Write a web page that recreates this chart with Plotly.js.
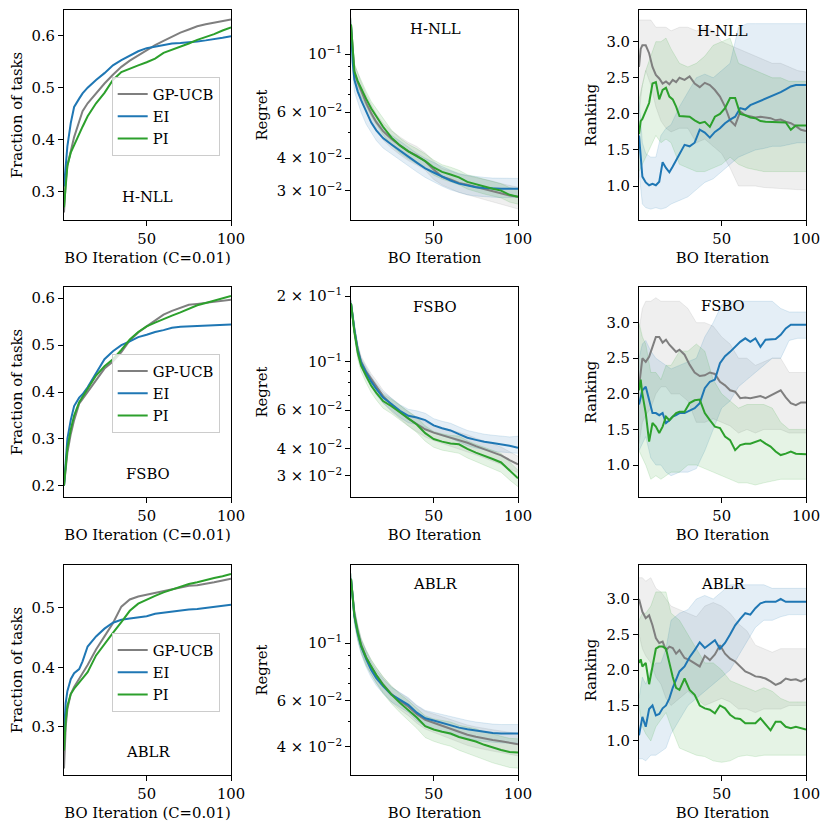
<!DOCTYPE html>
<html><head><meta charset="utf-8">
<script src="https://cdn.plot.ly/plotly-3.0.1.min.js"></script>
<style>html,body{margin:0;padding:0;background:#fff}#chart{width:831px;height:830px}</style>
</head><body><div id="chart"></div>
<script>
// ---------------- data ----------------
const METHODS = ['GP-UCB', 'EI', 'PI'];
const DATASETS = ['H-NLL', 'FSBO', 'ABLR'];

// Column 1: fraction of tasks
const X_FRAC = [1,2,3,5,7,10,12,15,20,25,30,35,40,45,50,55,60,65,70,75,80,85,90,95,100];
const FRAC_HNLL_GPUCB = [0.26,0.32,0.35,0.38,0.405,0.435,0.455,0.47,0.49,0.508,0.525,0.54,0.552,0.562,0.572,0.582,0.59,0.598,0.606,0.612,0.618,0.622,0.625,0.627,0.631];
const FRAC_HNLL_EI    = [0.31,0.35,0.387,0.432,0.463,0.479,0.489,0.5,0.515,0.528,0.543,0.553,0.562,0.57,0.576,0.579,0.583,0.585,0.586,0.587,0.589,0.591,0.593,0.596,0.599];
const FRAC_HNLL_PI    = [0.27,0.32,0.35,0.375,0.39,0.41,0.425,0.445,0.47,0.49,0.515,0.53,0.537,0.543,0.549,0.556,0.567,0.573,0.578,0.585,0.592,0.597,0.603,0.61,0.616];
const FRAC_FSBO_GPUCB = [0.2,0.24,0.27,0.31,0.34,0.375,0.385,0.40,0.425,0.45,0.465,0.485,0.51,0.527,0.54,0.552,0.565,0.573,0.58,0.586,0.588,0.59,0.592,0.594,0.597];
const FRAC_FSBO_EI    = [0.2,0.26,0.30,0.34,0.37,0.388,0.395,0.41,0.44,0.47,0.487,0.5,0.508,0.517,0.522,0.528,0.532,0.537,0.539,0.54,0.541,0.541,0.542,0.543,0.544];
const FRAC_FSBO_PI    = [0.2,0.25,0.28,0.32,0.35,0.378,0.39,0.405,0.435,0.455,0.47,0.49,0.512,0.528,0.54,0.548,0.556,0.563,0.57,0.577,0.585,0.59,0.595,0.6,0.605];
const FRAC_ABLR_GPUCB = [0.23,0.30,0.33,0.355,0.367,0.38,0.39,0.404,0.43,0.452,0.474,0.502,0.514,0.519,0.522,0.526,0.529,0.531,0.535,0.537,0.538,0.54,0.543,0.546,0.549];
const FRAC_ABLR_EI    = [0.29,0.34,0.36,0.38,0.39,0.397,0.41,0.435,0.452,0.465,0.475,0.48,0.482,0.484,0.486,0.49,0.492,0.494,0.495,0.497,0.498,0.5,0.501,0.503,0.505];
const FRAC_ABLR_PI    = [0.26,0.31,0.335,0.355,0.364,0.375,0.383,0.392,0.42,0.44,0.458,0.476,0.495,0.507,0.514,0.52,0.526,0.531,0.536,0.54,0.543,0.547,0.55,0.553,0.557];

// Column 2: regret (mean, lower, upper)
const X_REG = [1,2,3,5,7,10,13,16,20,25,30,35,40,45,50,55,60,65,70,75,80,85,90,95,100];
const REG_HNLL_GPUCB    = [0.13,0.1,0.085,0.078,0.072,0.065,0.0595,0.055,0.0508,0.0474,0.0448,0.0425,0.041,0.039,0.0362,0.034,0.0332,0.0322,0.0317,0.0311,0.0305,0.03,0.0294,0.0288,0.0285];
const REG_HNLL_GPUCB_LO = [0.122,0.092,0.078,0.071,0.066,0.06,0.055,0.051,0.047,0.0438,0.0413,0.0392,0.0377,0.036,0.0332,0.0316,0.0306,0.0296,0.029,0.0284,0.0278,0.0272,0.0266,0.026,0.0256];
const REG_HNLL_GPUCB_HI = [0.138,0.108,0.092,0.085,0.078,0.07,0.064,0.059,0.0546,0.051,0.0483,0.046,0.0444,0.042,0.039,0.0366,0.0358,0.0348,0.0343,0.0338,0.0332,0.0327,0.032,0.0315,0.031];
const REG_HNLL_EI       = [0.128,0.093,0.08,0.072,0.0668,0.06,0.0548,0.0512,0.0478,0.0452,0.043,0.0406,0.0385,0.0366,0.0353,0.034,0.0329,0.032,0.0314,0.031,0.0308,0.0306,0.0306,0.0306,0.0306];
const REG_HNLL_EI_LO    = [0.12,0.085,0.072,0.065,0.06,0.054,0.05,0.0468,0.0438,0.0415,0.0395,0.0374,0.0355,0.0338,0.0325,0.0313,0.0303,0.0296,0.029,0.0287,0.0285,0.0284,0.0283,0.0283,0.0283];
const REG_HNLL_EI_HI    = [0.136,0.104,0.088,0.079,0.073,0.066,0.06,0.056,0.052,0.049,0.0466,0.044,0.0418,0.04,0.0385,0.0372,0.036,0.035,0.0344,0.034,0.0338,0.0336,0.0335,0.0335,0.0335];
const REG_HNLL_PI       = [0.13,0.1,0.086,0.079,0.074,0.0675,0.062,0.058,0.0528,0.048,0.0448,0.0425,0.0408,0.039,0.0369,0.0355,0.0347,0.0338,0.0325,0.0318,0.0311,0.0306,0.0301,0.029,0.0285];
const REG_HNLL_PI_LO    = [0.122,0.093,0.08,0.073,0.069,0.063,0.058,0.054,0.0493,0.0448,0.0419,0.0398,0.0382,0.0365,0.0345,0.0333,0.0325,0.0317,0.0305,0.0298,0.0292,0.0287,0.0282,0.0272,0.0267];
const REG_HNLL_PI_HI    = [0.138,0.107,0.092,0.085,0.079,0.072,0.066,0.062,0.0565,0.0513,0.0478,0.0453,0.0435,0.0416,0.0394,0.0378,0.037,0.036,0.0346,0.0339,0.0331,0.0326,0.032,0.0309,0.0304];

const REG_FSBO_GPUCB    = [0.185,0.16,0.14,0.114,0.1,0.09,0.083,0.077,0.0695,0.0635,0.059,0.0548,0.0517,0.049,0.0473,0.046,0.045,0.0436,0.0425,0.041,0.0398,0.0385,0.0372,0.0354,0.0338];
const REG_FSBO_GPUCB_LO = [0.178,0.152,0.133,0.107,0.094,0.085,0.078,0.072,0.065,0.059,0.0548,0.0508,0.0478,0.0452,0.0435,0.0422,0.0412,0.0398,0.0388,0.0374,0.0362,0.035,0.0338,0.0322,0.031];
const REG_FSBO_GPUCB_HI = [0.192,0.168,0.147,0.121,0.106,0.096,0.088,0.082,0.074,0.068,0.0632,0.0588,0.0556,0.0528,0.0511,0.0498,0.0488,0.0474,0.0462,0.0446,0.0434,0.042,0.0406,0.0386,0.0368];
const REG_FSBO_EI       = [0.185,0.16,0.14,0.113,0.099,0.089,0.081,0.075,0.0685,0.064,0.0595,0.0565,0.0555,0.054,0.051,0.0495,0.0484,0.0465,0.0448,0.0438,0.0429,0.0424,0.0419,0.0412,0.0403];
const REG_FSBO_EI_LO    = [0.178,0.152,0.133,0.107,0.094,0.084,0.0765,0.0705,0.0645,0.06,0.0555,0.0525,0.0515,0.05,0.0472,0.0457,0.0446,0.0428,0.0412,0.0402,0.0394,0.0389,0.0385,0.0382,0.038];
const REG_FSBO_EI_HI    = [0.192,0.168,0.147,0.119,0.104,0.094,0.0855,0.0795,0.0725,0.068,0.0635,0.0605,0.0595,0.058,0.0548,0.0533,0.0522,0.0502,0.0484,0.0474,0.0465,0.046,0.0455,0.0452,0.0455];
const REG_FSBO_PI       = [0.185,0.158,0.137,0.11,0.096,0.086,0.0775,0.072,0.066,0.0625,0.0585,0.0548,0.0515,0.047,0.0442,0.043,0.0422,0.0418,0.0398,0.0383,0.0371,0.0358,0.0345,0.0318,0.0292];
const REG_FSBO_PI_LO    = [0.178,0.15,0.13,0.103,0.09,0.08,0.0722,0.0668,0.0612,0.0578,0.054,0.0505,0.0474,0.0432,0.0405,0.0393,0.0385,0.038,0.0362,0.0348,0.0336,0.0324,0.0311,0.0287,0.0267];
const REG_FSBO_PI_HI    = [0.192,0.166,0.144,0.117,0.102,0.092,0.083,0.0772,0.0708,0.0672,0.063,0.0591,0.0556,0.0508,0.0479,0.0467,0.0459,0.0456,0.0434,0.0418,0.0406,0.0392,0.0379,0.0349,0.0318];

const REG_ABLR_GPUCB    = [0.177,0.147,0.13,0.111,0.099,0.0885,0.081,0.0755,0.0695,0.0638,0.06,0.057,0.0534,0.0508,0.0495,0.0483,0.047,0.0456,0.0445,0.0437,0.043,0.0425,0.042,0.0414,0.0409];
const REG_ABLR_GPUCB_LO = [0.168,0.138,0.122,0.104,0.093,0.083,0.0758,0.0705,0.0648,0.0593,0.0556,0.0527,0.0493,0.0468,0.0455,0.0443,0.043,0.0416,0.0405,0.0397,0.039,0.0385,0.038,0.0374,0.0369];
const REG_ABLR_GPUCB_HI = [0.186,0.156,0.138,0.118,0.105,0.094,0.0862,0.0805,0.0742,0.0683,0.0644,0.0613,0.0575,0.0548,0.0535,0.0523,0.051,0.0496,0.0485,0.0477,0.047,0.0465,0.046,0.0454,0.0449];
const REG_ABLR_EI       = [0.177,0.145,0.127,0.109,0.097,0.087,0.079,0.0735,0.0685,0.0635,0.0605,0.058,0.0541,0.0515,0.0505,0.0494,0.0483,0.0474,0.0467,0.0461,0.0456,0.0452,0.045,0.045,0.045];
const REG_ABLR_EI_LO    = [0.168,0.136,0.119,0.102,0.091,0.081,0.0738,0.0688,0.0641,0.0595,0.0566,0.0542,0.0504,0.0478,0.0468,0.0456,0.0445,0.0436,0.0429,0.0424,0.0419,0.0416,0.0414,0.0413,0.0413];
const REG_ABLR_EI_HI    = [0.186,0.154,0.135,0.116,0.103,0.093,0.0845,0.0785,0.073,0.0677,0.0645,0.0618,0.0578,0.0552,0.0542,0.0532,0.0521,0.0512,0.0505,0.0498,0.0493,0.0489,0.0487,0.0487,0.0487];
const REG_ABLR_PI       = [0.177,0.146,0.128,0.11,0.098,0.088,0.081,0.0755,0.0693,0.0635,0.059,0.0554,0.0518,0.048,0.0466,0.0457,0.045,0.0436,0.0427,0.0419,0.0407,0.0397,0.0389,0.0382,0.038];
const REG_ABLR_PI_LO    = [0.168,0.137,0.12,0.103,0.092,0.082,0.0755,0.0702,0.0642,0.0586,0.0542,0.0506,0.0471,0.0434,0.042,0.041,0.0402,0.0388,0.0378,0.0369,0.0357,0.0347,0.0339,0.0333,0.0331];
const REG_ABLR_PI_HI    = [0.186,0.155,0.136,0.117,0.104,0.094,0.0865,0.0808,0.0744,0.0684,0.0638,0.0602,0.0565,0.0526,0.0512,0.0504,0.0498,0.0484,0.0476,0.0469,0.0457,0.0447,0.0439,0.0431,0.0429];

// Column 3: ranking (mean lines and bands)
const X_RANK = [1,2,3,5,7,9,11,13,15,17,19,21,23,25,28,31,34,37,40,43,46,49,52,55,58,61,64,67,70,73,76,79,82,85,88,91,94,97,100];
const RANK_HNLL_GPUCB = [2.65,2.9,2.95,2.95,2.84,2.65,2.54,2.49,2.42,2.45,2.41,2.47,2.44,2.5,2.47,2.52,2.42,2.37,2.43,2.4,2.33,2.24,2.1,1.91,1.84,2.03,1.98,1.96,1.95,1.96,1.95,1.94,1.91,1.92,1.89,1.87,1.83,1.78,1.76];
const RANK_HNLL_EI    = [1.7,1.35,1.13,1.05,1.01,1.03,1.01,1.06,1.33,1.25,1.19,1.27,1.35,1.45,1.57,1.55,1.6,1.78,1.74,1.67,1.75,1.8,1.87,1.92,1.96,2.08,2.06,2.12,2.15,2.17,2.2,2.23,2.27,2.3,2.34,2.38,2.4,2.4,2.4];
const RANK_HNLL_PI    = [1.72,1.9,1.93,2.05,2.15,2.42,2.44,2.2,2.33,2.36,2.24,2.2,2.1,1.97,1.97,1.96,1.91,1.87,1.89,1.82,1.96,2.0,2.08,2.22,2.22,2.0,1.98,1.95,1.94,1.9,1.89,1.89,1.89,1.88,1.88,1.78,1.84,1.84,1.84];
const RANK_FSBO_GPUCB = [2.1,2.3,2.5,2.45,2.52,2.66,2.8,2.8,2.72,2.76,2.69,2.64,2.59,2.62,2.55,2.41,2.3,2.25,2.26,2.3,2.28,2.17,2.12,2.05,2.03,1.94,1.95,1.94,1.96,1.97,1.94,1.98,2.02,2.05,1.95,1.87,1.84,1.88,1.88];
const RANK_FSBO_EI    = [1.85,1.95,2.05,2.1,1.91,1.73,1.73,1.7,1.73,1.59,1.63,1.68,1.7,1.73,1.73,1.77,1.8,1.87,2.08,2.17,2.2,2.43,2.53,2.59,2.66,2.73,2.78,2.73,2.78,2.66,2.76,2.76,2.77,2.83,2.92,2.97,2.97,2.97,2.97];
const RANK_FSBO_PI    = [2.05,2.2,2.0,1.73,1.33,1.59,1.54,1.45,1.54,1.68,1.63,1.68,1.73,1.75,1.75,1.87,1.91,1.92,1.73,1.63,1.54,1.52,1.4,1.35,1.21,1.28,1.3,1.3,1.33,1.35,1.3,1.26,1.19,1.14,1.16,1.19,1.16,1.16,1.15];
const RANK_ABLR_GPUCB = [3.0,2.9,2.82,2.73,2.77,2.63,2.45,2.38,2.4,2.28,2.33,2.31,2.23,2.28,2.17,2.14,2.1,2.05,2.2,2.14,2.22,2.35,2.23,2.16,2.12,2.05,1.98,1.95,1.91,1.9,1.88,1.84,1.79,1.82,1.88,1.86,1.87,1.84,1.88];
const RANK_ABLR_EI    = [1.08,1.2,1.34,1.2,1.45,1.5,1.36,1.38,1.46,1.5,1.6,1.75,1.87,1.98,2.05,2.18,2.28,2.39,2.31,2.36,2.42,2.3,2.38,2.5,2.63,2.72,2.8,2.78,2.87,2.94,2.96,2.96,2.96,3.0,2.96,2.96,2.96,2.96,2.96];
const RANK_ABLR_PI    = [2.1,2.15,2.05,2.1,1.8,2.05,2.3,2.33,2.33,2.3,2.1,1.9,1.75,1.72,1.88,1.72,1.65,1.5,1.46,1.44,1.39,1.5,1.46,1.37,1.32,1.31,1.25,1.25,1.25,1.32,1.23,1.15,1.27,1.27,1.2,1.18,1.2,1.18,1.16];

const X_BAND = [1,3,5,8,11,14,17,20,25,30,35,40,45,50,55,60,65,70,75,80,85,90,95,100];
const RANK_HNLL_GPUCB_LO = [2.0,2.4,2.6,2.4,2.1,1.9,1.8,1.75,1.8,1.8,1.6,1.65,1.55,1.45,1.25,1.0,1.0,1.0,0.98,0.97,0.96,0.95,0.95,0.95];
const RANK_HNLL_GPUCB_HI = [3.3,3.3,3.3,3.3,3.2,3.2,3.2,3.15,3.2,3.2,3.15,3.2,3.15,3.0,2.95,2.9,2.85,2.8,2.75,2.7,2.7,2.65,2.6,2.58];
const RANK_HNLL_EI_LO    = [1.2,0.75,0.7,0.68,0.7,0.68,0.7,0.75,0.8,0.85,0.95,1.05,1.1,1.2,1.3,1.4,1.45,1.5,1.52,1.55,1.55,1.58,1.6,1.6];
const RANK_HNLL_EI_HI    = [2.2,1.6,1.45,1.4,1.4,1.7,1.8,1.85,2.1,2.3,2.5,2.55,2.5,2.6,2.7,3.2,3.25,3.25,3.25,3.25,3.25,3.25,3.25,3.25];
const RANK_HNLL_PI_LO    = [1.2,1.3,1.4,1.55,1.7,1.6,1.65,1.6,1.3,1.25,1.2,1.2,1.25,1.3,1.4,1.3,1.25,1.22,1.2,1.2,1.2,1.2,1.2,1.2];
const RANK_HNLL_PI_HI    = [2.2,2.4,2.6,2.8,3.0,3.0,3.05,2.9,2.7,2.65,2.7,2.8,2.95,3.0,3.05,2.7,2.65,2.6,2.55,2.5,2.5,2.45,2.45,2.45];
const RANK_FSBO_GPUCB_LO = [1.3,1.6,1.7,1.8,2.0,2.1,2.1,2.0,2.0,1.9,1.6,1.6,1.65,1.6,1.55,1.45,1.5,1.45,1.5,1.5,1.5,1.45,1.45,1.45];
const RANK_FSBO_GPUCB_HI = [2.9,3.2,3.3,3.3,3.35,3.3,3.3,3.3,3.3,3.2,3.0,3.0,2.95,2.8,2.7,2.5,2.5,2.4,2.45,2.5,2.5,2.3,2.3,2.3];
const RANK_FSBO_EI_LO    = [1.2,1.3,1.4,1.1,1.0,1.0,0.9,0.85,0.9,0.9,0.95,1.2,1.5,1.8,1.9,2.1,2.2,2.3,2.4,2.5,2.5,2.75,2.78,2.78];
const RANK_FSBO_EI_HI    = [2.5,2.7,2.75,2.6,2.5,2.45,2.4,2.35,2.4,2.45,2.5,2.8,3.0,3.25,3.3,3.3,3.3,3.3,3.3,3.3,3.2,3.15,3.15,3.15];
const RANK_FSBO_PI_LO    = [1.2,1.1,1.0,0.8,0.85,0.8,0.85,0.9,0.9,1.0,1.0,0.95,0.9,0.85,0.8,0.75,0.75,0.72,0.75,0.78,0.8,0.8,0.8,0.8];
const RANK_FSBO_PI_HI    = [3.0,2.8,2.7,2.3,2.3,2.2,2.4,2.4,2.6,2.6,2.7,2.6,2.2,2.0,1.9,1.8,1.85,1.85,1.85,1.8,1.6,1.5,1.5,1.5];
const RANK_ABLR_GPUCB_LO = [2.5,2.3,2.2,2.1,1.9,1.8,1.6,1.5,1.6,1.7,1.6,1.5,1.55,1.6,1.55,1.45,1.45,1.4,1.45,1.45,1.45,1.5,1.5,1.5];
const RANK_ABLR_GPUCB_HI = [3.3,3.3,3.25,3.3,3.15,3.1,3.0,2.9,2.85,2.8,2.75,2.9,2.95,2.9,2.8,2.65,2.55,2.35,2.3,2.25,2.3,2.3,2.3,2.3];
const RANK_ABLR_EI_LO    = [0.75,0.75,0.72,0.8,0.8,0.85,0.9,1.1,1.3,1.5,1.6,1.7,1.8,1.9,2.0,2.2,2.4,2.6,2.7,2.7,2.75,2.78,2.78,2.78];
const RANK_ABLR_EI_HI    = [1.6,1.9,1.8,2.0,2.1,2.1,2.3,2.7,2.8,2.85,3.0,3.05,3.0,3.1,3.2,3.2,3.2,3.2,3.2,3.15,3.15,3.15,3.15,3.15];
const RANK_ABLR_PI_LO    = [1.5,1.2,1.1,1.0,1.2,1.3,1.4,1.2,0.9,0.85,0.8,0.78,0.72,0.7,0.72,0.78,0.8,0.78,0.8,0.8,0.8,0.8,0.8,0.8];
const RANK_ABLR_PI_HI    = [2.7,2.8,2.8,2.9,3.1,3.1,3.1,2.8,2.7,2.5,2.3,2.1,2.1,2.0,1.85,1.8,1.75,1.7,1.75,1.7,1.6,1.55,1.55,1.55];

// tick labels
const FRAC_TICKS = [[0.3,0.4,0.5,0.6],[0.2,0.3,0.4,0.5,0.6],[0.3,0.4,0.5]];
const REG_TICKVALS = [[0.03,0.04,0.06,0.1],[0.03,0.04,0.06,0.1,0.2],[0.04,0.06,0.1]];
const REG_TICKTEXT = [
  ['3 × 10<sup>−2</sup>','4 × 10<sup>−2</sup>','6 × 10<sup>−2</sup>','10<sup>−1</sup>'],
  ['3 × 10<sup>−2</sup>','4 × 10<sup>−2</sup>','6 × 10<sup>−2</sup>','10<sup>−1</sup>','2 × 10<sup>−1</sup>'],
  ['4 × 10<sup>−2</sup>','6 × 10<sup>−2</sup>','10<sup>−1</sup>']
];
const REG_MINOR = [0.05,0.07,0.08,0.09];
const RANK_TICKS = [1.0,1.5,2.0,2.5,3.0];
const X_TICKS = [50,100];

// ---------------- styling ----------------
const FONT = 'DejaVu Serif, Liberation Serif, serif';
const FS = 14.8;
const COLORS = ['#7f7f7f','#1f77b4','#2ca02c'];
const BAND_FILLS = ['rgba(127,127,127,0.12)','rgba(31,119,180,0.12)','rgba(44,160,44,0.12)'];
const BAND_EDGES = ['rgba(127,127,127,0.18)','rgba(31,119,180,0.18)','rgba(44,160,44,0.18)'];
const W = 831, H = 830;
const COLS_PX = [[64,231],[351,518],[639,806]];
const ROWS_PX = [[10,220],[287,497],[565,775]];
const FRAC_RANGES = [[0.2456,0.6494],[0.176,0.624],[0.219,0.572]];
const REG_RANGES = [[-1.634,-0.8305],[-1.6206,-0.6573],[-1.5065,-0.6988]];
const RANK_RANGES = [[0.529,3.439],[0.551,3.501],[0.521,3.479]];

const FRAC = [[FRAC_HNLL_GPUCB,FRAC_HNLL_EI,FRAC_HNLL_PI],[FRAC_FSBO_GPUCB,FRAC_FSBO_EI,FRAC_FSBO_PI],[FRAC_ABLR_GPUCB,FRAC_ABLR_EI,FRAC_ABLR_PI]];
const REG = [
  [[REG_HNLL_GPUCB,REG_HNLL_GPUCB_LO,REG_HNLL_GPUCB_HI],[REG_HNLL_EI,REG_HNLL_EI_LO,REG_HNLL_EI_HI],[REG_HNLL_PI,REG_HNLL_PI_LO,REG_HNLL_PI_HI]],
  [[REG_FSBO_GPUCB,REG_FSBO_GPUCB_LO,REG_FSBO_GPUCB_HI],[REG_FSBO_EI,REG_FSBO_EI_LO,REG_FSBO_EI_HI],[REG_FSBO_PI,REG_FSBO_PI_LO,REG_FSBO_PI_HI]],
  [[REG_ABLR_GPUCB,REG_ABLR_GPUCB_LO,REG_ABLR_GPUCB_HI],[REG_ABLR_EI,REG_ABLR_EI_LO,REG_ABLR_EI_HI],[REG_ABLR_PI,REG_ABLR_PI_LO,REG_ABLR_PI_HI]]
];
const RANK = [
  [[RANK_HNLL_GPUCB,RANK_HNLL_GPUCB_LO,RANK_HNLL_GPUCB_HI],[RANK_HNLL_EI,RANK_HNLL_EI_LO,RANK_HNLL_EI_HI],[RANK_HNLL_PI,RANK_HNLL_PI_LO,RANK_HNLL_PI_HI]],
  [[RANK_FSBO_GPUCB,RANK_FSBO_GPUCB_LO,RANK_FSBO_GPUCB_HI],[RANK_FSBO_EI,RANK_FSBO_EI_LO,RANK_FSBO_EI_HI],[RANK_FSBO_PI,RANK_FSBO_PI_LO,RANK_FSBO_PI_HI]],
  [[RANK_ABLR_GPUCB,RANK_ABLR_GPUCB_LO,RANK_ABLR_GPUCB_HI],[RANK_ABLR_EI,RANK_ABLR_EI_LO,RANK_ABLR_EI_HI],[RANK_ABLR_PI,RANK_ABLR_PI_LO,RANK_ABLR_PI_HI]]
];

const traces = [];
const layout = {
  width: W, height: H, margin: {l:0, r:0, t:0, b:0},
  paper_bgcolor: 'white', plot_bgcolor: 'white',
  font: {family: FONT, size: FS, color: 'black'},
  annotations: []
};
const LEGENDS = ['legend','legend2','legend3'];
const LEGEND_TOP_PX = [77, 354, 633];

function axBase() {
  return {showline:true, mirror:true, linecolor:'black', linewidth:1, ticks:'outside', ticklen:5, tickwidth:1,
          tickcolor:'black', showgrid:false, zeroline:false, automargin:false,
          tickfont:{family:FONT, size:FS, color:'black'}};
}
function addBand(xa, ya, x, lo, hi, k) {
  traces.push({type:'scatter', mode:'lines', x:x, y:lo, xaxis:xa, yaxis:ya, line:{color:BAND_EDGES[k], width:0.8}, showlegend:false, hoverinfo:'skip'});
  traces.push({type:'scatter', mode:'lines', x:x, y:hi, xaxis:xa, yaxis:ya, fill:'tonexty', fillcolor:BAND_FILLS[k], line:{color:BAND_EDGES[k], width:0.8}, showlegend:false, hoverinfo:'skip'});
}

for (let r = 0; r < 3; r++) {
  for (let c = 0; c < 3; c++) {
    const i = r*3 + c + 1;
    const xa = 'x' + (i === 1 ? '' : i), ya = 'y' + (i === 1 ? '' : i);
    const xk = 'xaxis' + (i === 1 ? '' : i), yk = 'yaxis' + (i === 1 ? '' : i);
    const xAx = axBase(), yAx = axBase();
    xAx.domain = [COLS_PX[c][0]/W, COLS_PX[c][1]/W];
    yAx.domain = [1 - ROWS_PX[r][1]/H, 1 - ROWS_PX[r][0]/H];
    xAx.anchor = ya; yAx.anchor = xa;
    xAx.range = [1, 100];
    xAx.tickmode = 'array'; xAx.tickvals = X_TICKS; xAx.ticktext = X_TICKS.map(String);
    xAx.title = {text: c === 0 ? 'BO Iteration (C=0.01)' : 'BO Iteration', font:{family:FONT, size:FS, color:'black'}, standoff: 6};
    yAx.tickmode = 'array';
    let labelY;
    if (c === 0) {
      yAx.range = FRAC_RANGES[r];
      yAx.tickvals = FRAC_TICKS[r]; yAx.ticktext = FRAC_TICKS[r].map(v => v.toFixed(1));
      yAx.title = {text:'Fraction of tasks', font:{family:FONT, size:FS, color:'black'}, standoff: 5};
      for (let k = 0; k < 3; k++) {
        traces.push({type:'scatter', mode:'lines', x:X_FRAC, y:FRAC[r][k], xaxis:xa, yaxis:ya, name:METHODS[k],
          line:{color:COLORS[k], width:2}, legend:LEGENDS[r], showlegend:true});
      }
      labelY = [196.7, 473, 751.7][r];
      layout.annotations.push({text:DATASETS[r], xref:'paper', yref:'paper', x:147.5/W, y:1-labelY/H,
        xanchor:'center', yanchor:'middle', showarrow:false, font:{family:FONT, size:FS, color:'black'}});
      layout[LEGENDS[r]] = {x:111.7/W, y:1-LEGEND_TOP_PX[r]/H, xanchor:'left', yanchor:'top', traceorder:'normal',
        bgcolor:'rgba(255,255,255,0.8)', bordercolor:'#cccccc', borderwidth:1,
        font:{family:FONT, size:FS, color:'black'}, tracegroupgap:0};
    } else if (c === 1) {
      yAx.type = 'log';
      yAx.range = REG_RANGES[r];
      yAx.tickvals = REG_TICKVALS[r]; yAx.ticktext = REG_TICKTEXT[r];
      yAx.minor = {tickmode:'array', tickvals:REG_MINOR, ticklen:2.5, tickcolor:'black', ticks:'outside', showgrid:false};
      yAx.title = {text:'Regret', font:{family:FONT, size:FS, color:'black'}, standoff: 5};
      for (let k = 0; k < 3; k++) addBand(xa, ya, X_REG, REG[r][k][1], REG[r][k][2], k);
      for (let k = 0; k < 3; k++) {
        traces.push({type:'scatter', mode:'lines', x:X_REG, y:REG[r][k][0], xaxis:xa, yaxis:ya, name:METHODS[k],
          line:{color:COLORS[k], width:2}, showlegend:false});
      }
      labelY = [28.3, 306, 583][r];
      layout.annotations.push({text:DATASETS[r], xref:'paper', yref:'paper', x:435/W, y:1-labelY/H,
        xanchor:'center', yanchor:'middle', showarrow:false, font:{family:FONT, size:FS, color:'black'}});
    } else {
      yAx.range = RANK_RANGES[r];
      yAx.tickvals = RANK_TICKS; yAx.ticktext = RANK_TICKS.map(v => v.toFixed(1));
      yAx.title = {text:'Ranking', font:{family:FONT, size:FS, color:'black'}, standoff: 6};
      for (let k = 0; k < 3; k++) addBand(xa, ya, X_BAND, RANK[r][k][1], RANK[r][k][2], k);
      for (let k = 0; k < 3; k++) {
        traces.push({type:'scatter', mode:'lines', x:X_RANK, y:RANK[r][k][0], xaxis:xa, yaxis:ya, name:METHODS[k],
          line:{color:COLORS[k], width:2}, showlegend:false});
      }
      labelY = [30, 305, 583][r];
      layout.annotations.push({text:DATASETS[r], xref:'paper', yref:'paper', x:722.5/W, y:1-labelY/H,
        xanchor:'center', yanchor:'middle', showarrow:false, font:{family:FONT, size:FS, color:'black'}});
    }
    layout[xk] = xAx; layout[yk] = yAx;
  }
}

Plotly.newPlot('chart', traces, layout, {staticPlot:true, displayModeBar:false});
</script>
</body></html>
